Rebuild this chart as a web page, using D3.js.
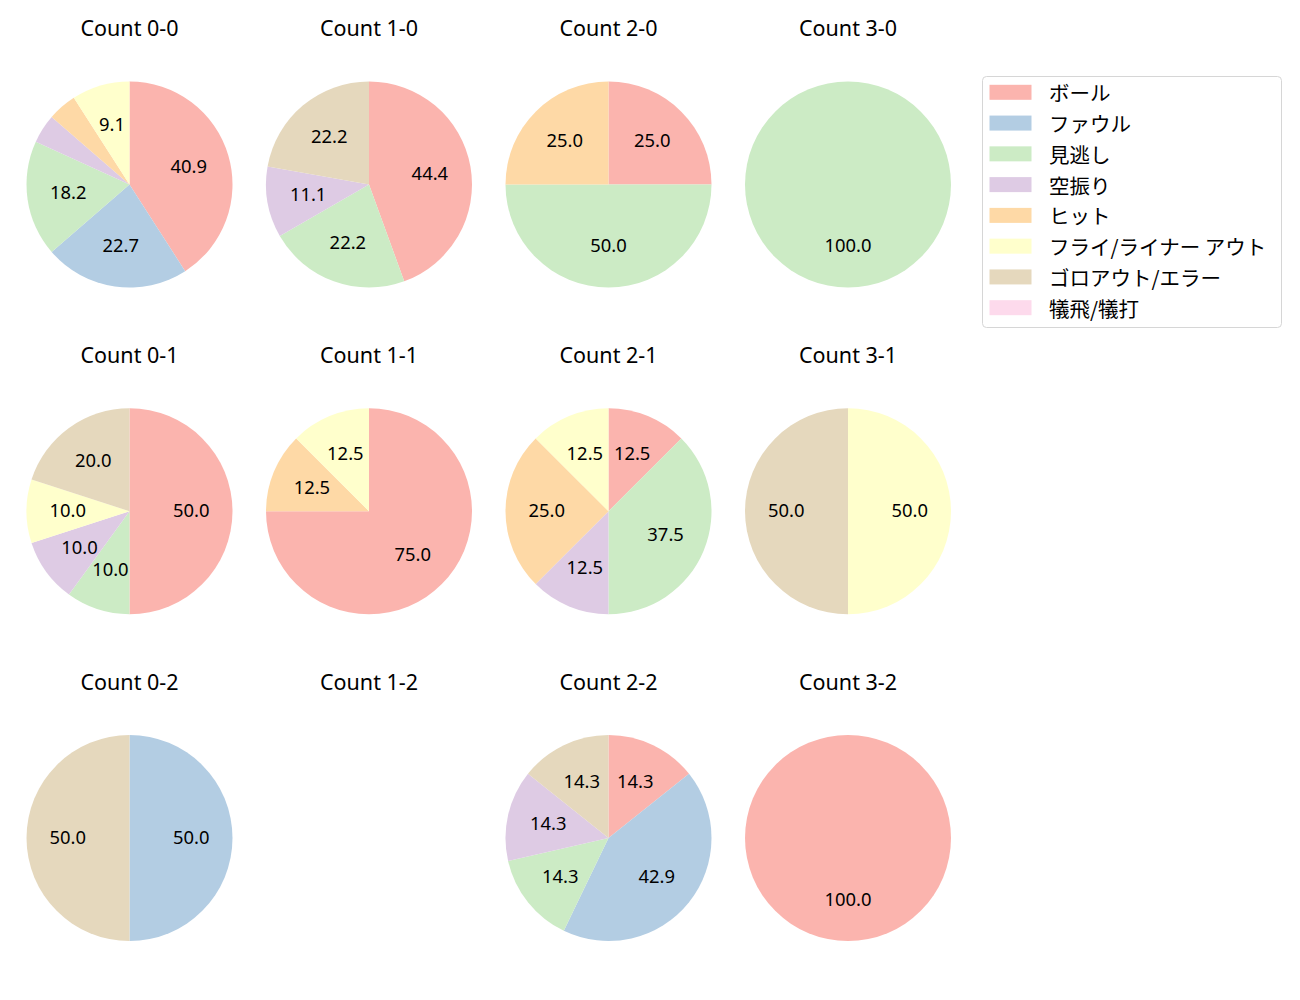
<!DOCTYPE html>
<html>
<head>
<meta charset="utf-8">
<script src="https://cdn.jsdelivr.net/npm/d3@7"></script>
<style>
  html, body { margin: 0; padding: 0; background: #fff; }
  svg { display: block; }
  text { font-family: "Noto Sans", "Noto Sans CJK JP", sans-serif; fill: #000; }
  text.leg { font-family: "Noto Sans CJK JP", "Noto Sans", sans-serif; }
</style>
</head>
<body>
<svg id="chart" width="1300" height="1000"></svg>
<script>
// Outcome categories (legend order)
const categories = ["ボール", "ファウル", "見逃し", "空振り", "ヒット", "フライ/ライナー アウト", "ゴロアウト/エラー", "犠飛/犠打"];
const colors = ["#fbb4ae", "#b3cde3", "#ccebc5", "#decbe4", "#fed9a6", "#ffffcc", "#e5d8bd", "#fddaec"];

// Panel titles (row-major: strikes rows, balls columns)
const panelTitles = ["Count 0-0", "Count 1-0", "Count 2-0", "Count 3-0",
                     "Count 0-1", "Count 1-1", "Count 2-1", "Count 3-1",
                     "Count 0-2", "Count 1-2", "Count 2-2", "Count 3-2"];

// Counts per category for each panel (category order as above)
const count00 = [9, 5, 4, 1, 1, 2, 0, 0];
const count10 = [4, 0, 2, 1, 0, 0, 2, 0];
const count20 = [1, 0, 2, 0, 1, 0, 0, 0];
const count30 = [0, 0, 1, 0, 0, 0, 0, 0];
const count01 = [5, 0, 1, 1, 0, 1, 2, 0];
const count11 = [6, 0, 0, 0, 1, 1, 0, 0];
const count21 = [1, 0, 3, 1, 2, 1, 0, 0];
const count31 = [0, 0, 0, 0, 0, 1, 1, 0];
const count02 = [0, 1, 0, 0, 0, 0, 1, 0];
const count12 = [0, 0, 0, 0, 0, 0, 0, 0];
const count22 = [1, 3, 1, 1, 0, 0, 1, 0];
const count32 = [1, 0, 0, 0, 0, 0, 0, 0];

const panelData = [count00, count10, count20, count30,
                   count01, count11, count21, count31,
                   count02, count12, count22, count32];

const svg = d3.select("#chart");

const colX = d3.scalePoint().domain([0, 1, 2, 3]).range([129.5, 848]);
const rowY = d3.scalePoint().domain([0, 1, 2]).range([184.5, 838]);
const color = d3.scaleOrdinal().domain(categories).range(colors);
const radius = 103;

const pie = d3.pie().sort(null).value(d => d.v);
const arc = d3.arc().innerRadius(0).outerRadius(radius);
const labelArc = d3.arc().innerRadius(radius * 0.6).outerRadius(radius * 0.6);

panelData.forEach((vals, i) => {
  const col = i % 4, row = Math.floor(i / 4);
  const cx = colX(col), cy = rowY(row);
  const g = svg.append("g").attr("transform", `translate(${cx},${cy})`);

  svg.append("text")
    .attr("x", cx).attr("y", cy - 148.5)
    .attr("text-anchor", "middle")
    .style("font-size", "21.5px")
    .text(panelTitles[i]);

  const total = d3.sum(vals);
  if (total === 0) return;
  const items = vals.map((v, k) => ({ cat: categories[k], v })).filter(d => d.v > 0);
  const arcs = pie(items);

  g.selectAll("path").data(arcs).enter().append("path")
    .attr("d", arc)
    .attr("fill", d => color(d.data.cat));

  g.selectAll("text.lbl").data(arcs.filter(d => d.data.v / total * 100 >= 5)).enter().append("text")
    .attr("class", "lbl")
    .attr("transform", d => `translate(${labelArc.centroid(d)})`)
    .attr("text-anchor", "middle")
    .attr("dy", "0.33em")
    .style("font-size", "18.4px")
    .text(d => (d.data.v / total * 100).toFixed(1));
});

// Legend
const lg = svg.append("g").attr("transform", "translate(982,76)");
lg.append("rect")
  .attr("x", 0.5).attr("y", 0.5)
  .attr("width", 299).attr("height", 251)
  .attr("rx", 4).attr("ry", 4)
  .attr("fill", "#fff").attr("stroke", "#d6d6d6");
const ly = d3.scalePoint().domain(categories).range([16.3, 231.7]);
categories.forEach(c => {
  lg.append("rect")
    .attr("x", 7.5).attr("y", ly(c) - 7.5)
    .attr("width", 42).attr("height", 15)
    .attr("fill", color(c));
  lg.append("text")
    .attr("class", "leg")
    .attr("x", 67).attr("y", ly(c))
    .attr("dominant-baseline", "central")
    .style("font-size", "20.5px")
    .text(c);
});
</script>
</body>
</html>
